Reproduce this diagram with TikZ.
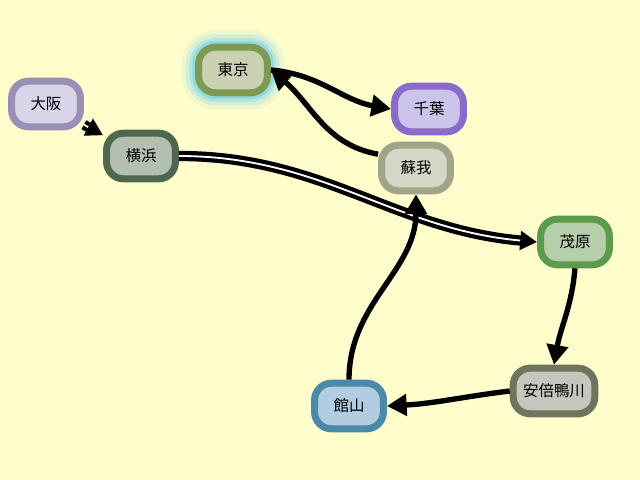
\documentclass[tikz,border=0pt]{standalone}
\usepackage{fontspec}
\setmainfont{Noto Sans CJK JP}
\usepackage{tikz}
\usetikzlibrary{arrows.meta, shadows}

\definecolor{bgyellow}{HTML}{FFFDCB}
\definecolor{tokyoline}{HTML}{7E9A52}
\definecolor{tokyofill}{HTML}{C9D1B2}
\definecolor{chibaline}{HTML}{8B6BC9}
\definecolor{chibafill}{HTML}{CBC3EA}
\definecolor{osakaline}{HTML}{9A90B6}
\definecolor{osakafill}{HTML}{D9D5E9}
\definecolor{yokoline}{HTML}{4F674F}
\definecolor{yokofill}{HTML}{B2BFB1}
\definecolor{sogaline}{HTML}{A1A489}
\definecolor{sogafill}{HTML}{D5D7C6}
\definecolor{mobaraline}{HTML}{5D9B4C}
\definecolor{mobarafill}{HTML}{B6CEAA}
\definecolor{kamoline}{HTML}{6F745F}
\definecolor{kamofill}{HTML}{C5C7BD}
\definecolor{tateline}{HTML}{4B89AA}
\definecolor{tatefill}{HTML}{B2CDE1}

\begin{document}
\begin{tikzpicture}[
  x=0.025cm, y=-0.025cm,
  station/.style={rectangle, draw, rounded corners=12pt, line width=5pt, minimum width=1.72cm, minimum height=1.14cm, inner xsep=7pt, align=center, font=\fontsize{11}{13}\selectfont,
    drop shadow={shadow xshift=0.5pt, shadow yshift=-2pt, opacity=0.3, fill=black!70}},
  glow/.style={preaction={draw=cyan!70, opacity=0.1, line width=24pt},
    preaction={draw=cyan!70, opacity=0.15, line width=18pt},
    preaction={draw=cyan!70, opacity=0.22, line width=13pt},
    preaction={draw=cyan!70, opacity=0.35, line width=9pt}},
  arr/.style={-{Triangle[length=14pt, width=15pt]}, line width=3.8pt},
  darr/.style={-{Triangle[length=12pt, width=13pt]}, double, double distance=1.3pt, line width=3pt},
]

% === Background ===
\fill[bgyellow] (0,0) rectangle (640,480);
\useasboundingbox (0,0) rectangle (640,480);

% === Stations ===
\node[station, glow, draw=tokyoline, fill=tokyofill] (tokyo) at (233,70) {東京};
\node[station, draw=chibaline, fill=chibafill] (chiba) at (429,109) {千葉};
\node[station, draw=osakaline, fill=osakafill] (osaka) at (46,104) {大阪};
\node[station, draw=yokoline, fill=yokofill] (yokohama) at (141,156) {横浜};
\node[station, draw=sogaline, fill=sogafill] (soga) at (416,168) {蘇我};
\node[station, draw=mobaraline, fill=mobarafill] (mobara) at (575,242) {茂原};
\node[station, draw=kamoline, fill=kamofill] (kamogawa) at (554,391) {安倍鴨川};
\node[station, draw=tateline, fill=tatefill] (tateyama) at (349,406) {館山};

% === Connectors ===
\draw[darr] (osaka) -- (yokohama);
\draw[darr] (yokohama.east) to[out=0, in=175] (mobara.west);

\draw[arr] (tokyo.east) to[out=-5, in=170] (chiba.west);
\draw[arr] (soga.160) to[out=170, in=-40] (tokyo.east);

\draw[arr] (mobara.south) to[out=-95, in=80] (kamogawa.north);
\draw[arr] (kamogawa.west) to[out=187, in=3] (tateyama.east);
\draw[arr] (tateyama.north) to[out=90, in=-90] (soga.south);
\end{tikzpicture}
\end{document}
